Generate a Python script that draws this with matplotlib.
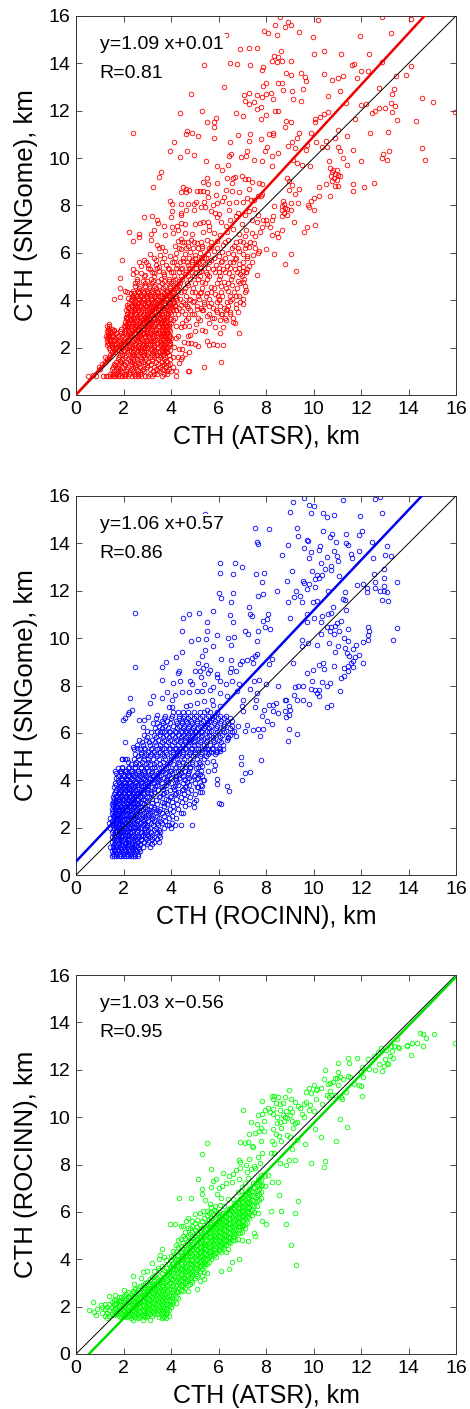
# Cloud top height comparison, three scatter panels
import matplotlib
matplotlib.use('Agg')
import matplotlib.pyplot as plt

plt.rcParams['font.family'] = ['Liberation Sans', 'DejaVu Sans']

# Panel 1: sparse points (ATSR, SNGome)
red_points = [(2.41,11.05),(3.26,8.8),(4.86,12.7),(4.38,11.92),(5.32,12.0),(5.39,13.93),(6.22,13.0),(6.3,15.2),(6.47,14.03),(6.78,13.98),(6.89,14.6),(7.3,14.65),(7.6,14.65),(7.33,13.93),
(7.07,12.68),(7.28,12.74),(7.12,12.43),(7.3,12.3),(7.51,12.38),(7.62,12.68),(7.83,12.6),(7.99,12.7),(8.2,12.77),(7.62,12.09),(7.78,12.15),(8.28,12.49),(8.38,12.0),(8.5,12.0),(6.74,11.9),(7.02,11.78),(7.8,11.64),(7.99,11.83),
(7.93,15.37),(8.08,15.3),(8.46,15.2),(8.39,15.6),(8.59,15.94),(8.8,15.55),(8.93,15.73),(9.05,15.6),(9.39,15.32),(9.96,15.1),(10.2,15.83),(12.9,15.97),(14.09,15.86),(13.25,15.3),(11.97,15.15),
(7.89,13.86),(7.83,13.72),(8.34,14.33),(8.49,14.28),(8.25,14.08),(8.46,14.05),(8.67,14.12),(8.63,14.54),(9.07,14.09),(10.0,14.38),(10.44,14.52),(11.16,14.38),(12.32,14.38),
(8.83,13.61),(9.04,13.5),(8.52,13.19),(8.67,13.19),(7.99,13.19),(7.87,13.06),(8.73,12.88),(9.09,12.85),(9.56,12.9),(9.47,13.61),(9.64,13.41),(9.67,13.26),(10.46,13.57),(10.78,13.3),(11.02,13.38),(11.26,13.47),(11.85,13.38),(12.0,13.69),(11.61,13.93),(11.7,13.99),(12.31,13.68),(12.9,14.05),(13.46,13.47),(13.89,13.52),(14.1,13.89),
(9.12,12.49),(9.47,12.42),(10.61,12.63),(11.1,12.85),(11.38,12.32),(12.01,12.25),(12.21,12.29),(12.76,12.96),(13.4,12.92),(13.29,12.72),(13.26,12.32),(13.42,12.21),(13.31,11.95),(13.52,11.63),(14.55,12.53),(15.05,12.36),(15.96,11.95),(14.32,11.56),
(13.01,12.1),(12.74,12.1),(12.58,12.0),(12.45,11.92),(10.62,11.95),(10.44,11.85),(10.29,11.73),(10.06,11.64),(10.08,11.53),(11.75,11.64),(9.04,11.54),(8.83,11.56),(8.81,11.33),(5.81,11.52),(5.5,11.53),(5.88,11.7),(5.81,11.32),(5.82,10.83),(4.67,11.15),(4.62,11.03),(4.9,11.08),(5.12,10.93),(4.14,10.7),(3.96,10.31),(4.36,10.03),(4.66,10.31),(4.97,10.14),(5.49,9.86),(5.94,9.65),(6.13,9.5),(6.39,9.72),(6.43,10.1),(6.51,10.18),(6.48,10.7),(6.82,10.98),(7.33,11.01),(7.28,10.72),(7.8,10.81),(8.11,11.01),(8.29,11.08),(8.31,10.97),(8.04,10.49),(7.96,10.32),(7.2,10.32),(7.14,10.07),(6.95,10.03),(7.51,9.92),(7.82,9.89),(8.24,10.1),(8.52,10.2),(8.25,9.65),
(8.94,10.52),(9.09,10.66),(9.21,10.44),(9.32,10.84),(9.39,11.04),(9.89,11.04),(10.12,10.66),(10.36,10.48),(9.73,10.56),(9.67,10.35),(10.55,10.49),(10.53,10.73),(10.9,10.87),(11.02,11.19),(11.42,10.94),(12.38,11.08),(13.14,11.11),(11.03,10.49),(11.12,10.31),(11.26,10.0),(11.4,9.7),(11.68,10.36),(12.0,9.86),(12.88,9.99),(12.94,10.17),(13.08,9.93),(13.18,10.32),(14.55,10.44),(14.71,9.93),(10.67,9.86),
(9.15,9.93),(9.32,9.79),(9.53,9.69),(9.87,9.65),(8.87,9.17),(8.97,9.02),(9.11,8.88),(8.98,8.67),(9.38,8.71),(9.22,8.5),(10.25,8.78),(10.53,8.92),(10.92,8.83),(10.69,8.38),(11.05,8.83),(10.69,9.58),(10.83,9.51),(10.98,9.48),(10.76,9.4),(10.9,9.34),(11.05,9.3),(11.12,9.23),(10.72,9.23),(10.87,9.16),(11.0,9.09),(10.76,9.02),(11.65,8.92),(11.65,8.6),(12.11,8.79),(12.53,8.96),
(10.25,8.38),(10.04,8.3),(9.88,8.17),(9.75,8.03),(9.81,7.94),(10.02,7.8),(10.08,7.19),(9.73,7.08),(9.62,6.9),(9.36,8.09),(9.17,7.32),(9.04,7.82),(9.05,8.1),(8.73,8.17),(8.77,8.08),(8.66,7.96),(8.8,7.89),(8.69,7.8),(8.87,7.85),(8.76,7.68),(8.9,7.61),(8.66,7.57),(8.34,7.96),(8.31,7.57),(8.24,7.37),(7.89,7.4),(8.03,7.23),(8.17,7.09),(8.67,6.95),(8.27,6.77),(8.49,6.67),(8.45,6.84),(8.32,5.97),(9.05,5.96),(8.81,5.55),(9.28,5.22),
(5.5,9.15),(5.35,9.0),(5.55,8.9),(5.95,8.95),(6.35,9.15),(6.6,9.15),(6.7,9.2),(7.0,9.25),(7.1,9.1),(7.25,9.1),(7.4,9.0),(7.7,8.95),(7.85,8.9),(6.55,8.95),(5.1,8.6),(5.2,8.6),(5.35,8.6),(5.5,8.55),(5.9,8.45),(6.3,8.65),(6.55,8.6),(6.85,8.55),(7.3,8.7),(7.85,8.5),(4.5,8.8),(4.65,8.7),(4.75,8.65),(4.4,8.55),(4.65,8.55),(3.5,9.2),(3.58,9.42),
(3.95,8.2),(4.05,8.05),(4.4,8.05),(4.7,8.05),(4.95,8.05),(5.05,8.15),(5.4,8.15),(5.55,8.35),(5.25,7.95),(5.45,7.95),(5.75,8.0),(5.95,8.1),(6.15,8.2),(6.25,8.35),(6.45,8.1),(6.75,8.15),(7.05,8.15),(7.2,8.3),(7.35,8.25),(7.5,8.25),(7.65,8.4),(7.8,8.4),(4.05,7.75),(4.4,7.7),(4.65,7.8),(4.95,7.8),(5.7,7.75),(5.85,7.7),(6.0,7.65),(6.45,7.8),(6.8,7.7),(7.1,7.6),(7.3,7.75),(7.5,7.85),(7.65,7.6),
(4.0,7.5),(4.4,7.6),(2.88,7.5),(3.2,7.55),(3.4,7.4),(3.45,7.25),(3.7,7.15),(4.05,7.1),(4.25,7.15),(4.4,7.25),(4.6,7.2),(5.0,7.2),(5.2,7.25),(5.35,7.3),(5.55,7.3),(5.6,7.15),(5.95,7.5),(6.1,7.3),(6.3,7.15),(6.5,7.4),(6.75,7.55),(7.0,7.2),(7.15,6.95),(7.4,7.4),(7.6,7.3),(7.85,7.1),(8.0,7.4),
(2.25,6.9),(2.65,6.8),(2.65,6.65),(2.4,6.5),(3.3,6.95),(3.15,6.8),(3.15,6.55),(3.75,6.75),(4.1,6.85),(4.3,6.95),(4.6,6.85),(4.9,6.8),(5.35,6.9),(5.6,6.95),(5.8,6.85),(6.05,6.75),(6.35,6.9),(6.6,7.0),(6.85,6.8),(7.1,6.7),(7.4,6.85),(7.55,6.7),(7.75,6.9),
(3.4,6.35),(3.5,6.2),(3.6,6.25),(3.75,6.1),(4.15,6.3),(4.3,6.5),(4.4,6.6),(4.55,6.45),(4.7,6.3),(4.85,6.55),(5.1,6.4),(5.3,6.3),(5.5,6.55),(5.7,6.3),(5.95,6.5),(6.2,6.35),(6.4,6.55),(6.65,6.3),(6.9,6.5),(7.15,6.35),(7.3,6.25),(7.5,6.4),(7.7,6.1),(8.0,6.15),
(3.1,5.95),(3.35,5.7),(3.55,5.9),(3.95,5.85),(4.2,6.0),(4.4,6.15),(4.6,5.95),(4.8,6.05),(5.0,5.9),(5.2,6.0),(5.4,5.8),(5.55,5.95),(5.8,6.1),(6.0,5.85),(6.15,6.05),(6.4,6.0),(6.6,5.95),(6.85,6.1),(7.05,5.95),(7.2,5.85),(7.45,5.9),(7.65,6.0),
(2.85,5.7),(2.65,5.6),(2.75,5.45),(2.95,5.6),(3.05,5.5),(3.35,5.5),(3.5,5.4),(3.8,5.5),(4.05,5.6),(4.25,5.5),(4.5,5.65),(4.7,5.5),(4.9,5.7),(5.05,5.55),(5.2,5.4),(5.45,5.55),(5.7,5.7),(5.9,5.5),(6.15,5.65),(6.35,5.45),(6.5,5.6),(6.7,5.75),(6.85,5.55),(7.05,5.4),(7.3,5.45),
(1.95,5.7),(1.85,4.95),(2.4,5.3),(2.4,5.1),(2.75,5.15),(2.9,5.05),(3.1,5.3),(3.3,5.15),(3.5,5.25),(3.7,5.1),(3.9,5.3),(4.1,5.2),(4.4,5.3),(4.6,5.1),(4.8,5.3),(5.0,5.15),(5.25,5.25),(5.5,5.1),(5.75,5.3),(6.0,5.2),(6.2,5.3),(6.45,5.15),(6.7,5.3),(6.9,5.1),(7.05,5.25),(7.15,5.2),(7.2,5.3),(7.6,5.05),
(1.6,4.05),(1.85,4.5),(1.85,4.15),(2.05,4.4),(2.15,4.35),(4.35,4.6),(4.55,4.4),(4.7,4.65),(5.0,4.35),(5.2,4.3),(5.3,4.75),(5.5,4.3),(5.7,4.55),(5.85,4.25),(6.1,4.6),(6.25,4.75),(6.4,4.4),(6.55,4.65),(6.8,4.8),(7.05,4.75),(7.1,4.6),(7.15,4.45),(6.75,4.2),(6.15,4.2),(6.0,4.0),(5.7,3.9),(5.4,3.85),(4.95,3.95),(4.75,4.0),(4.4,3.8),(4.6,3.85),(6.5,3.95),(7.05,3.85),(6.75,3.85),
(4.2,3.6),(4.45,3.55),(4.9,3.4),(5.1,3.65),(5.3,3.6),(5.5,3.35),(5.6,3.05),(5.8,3.25),(5.95,3.5),(6.15,3.4),(6.35,3.65),(6.5,3.5),(6.6,3.1),(6.8,3.5),(6.7,3.05),(6.3,3.15),(6.2,2.85),(6.05,2.6),(6.85,2.6),(5.85,2.85),(5.3,2.75),(5.45,2.7),(5.5,2.3),(5.6,2.1),(5.75,2.15),(5.95,2.1),(6.2,2.1),(5.05,3.0),(5.0,2.7),(4.8,2.55),(4.7,2.5),(4.55,2.9),(4.75,2.9),(4.3,2.5),(4.4,2.85),(4.2,2.4),(4.55,2.25),(4.7,2.2),(4.85,2.2),(5.15,2.05),(5.0,2.15),(4.35,1.95),(4.45,1.95),(4.3,1.6),(4.4,1.5),(4.35,1.35),(4.45,1.6),(4.75,1.8),(4.6,1.75),(5.4,1.2),(6.1,1.38),(4.7,1.0),(4.75,1.0),(4.0,1.0),(4.2,1.0),(0.5,0.8),(0.7,0.85),(0.85,0.82),(4.2,0.8)]

# Panel 1 dense core, one row of x values per SNGome level
red_core_y = [0.8,0.9,1.0,1.1,1.2,1.3,1.4,1.5,1.6,1.7,1.8,1.9,2.0,2.1,2.2,2.3,2.4,2.5,2.6,2.7,2.8,2.9,3.0,3.1,3.2,3.3,3.4,3.5,3.6,3.7,3.8,3.9,4.0,4.1,4.2,4.3,4.4,4.6,4.8]
red_core_x = [
[1.15,1.25,1.35,1.45,1.55,1.65,1.75,1.85,1.95,2.05,2.2,2.35,2.5,2.6,2.75,2.9,3.05,3.2,3.6],
[1.55,1.8,2.0,2.25,2.45,2.7,3.3,3.4,3.7],
[1.6,1.75,1.9,2.1,2.4,2.6,2.85,3.25,3.5,3.85],
[1.0,1.5,1.7,1.85,2.15,2.35,2.55,2.8,3.1,3.35,3.6,3.9],
[0.95,1.55,1.75,1.95,2.2,2.5,2.7,3.0,3.3,3.55,3.8,4.1],
[1.1,1.6,1.8,2.0,2.3,2.45,2.65,2.9,3.15,3.45,3.7,3.95],
[1.2,1.7,1.9,2.1,2.35,2.6,2.8,3.05,3.35,3.6,3.85],
[1.3,1.75,1.95,2.2,2.4,2.55,2.75,2.95,3.2,3.45,3.7,3.95],
[1.2,1.4,1.8,2.05,2.3,2.5,2.7,2.9,3.1,3.3,3.55,3.75,4.1],
[1.45,1.85,2.1,2.35,2.45,2.6,2.8,3.0,3.2,3.4,3.65,3.9],
[1.5,1.65,1.9,2.15,2.4,2.55,2.7,2.85,3.05,3.25,3.5,3.7,3.85],
[1.45,1.6,1.8,2.0,2.25,2.45,2.6,2.75,2.95,3.15,3.3,3.6,3.75,3.95],
[1.4,1.55,1.7,1.95,2.15,2.35,2.5,2.7,2.85,3.0,3.2,3.4,3.65,3.8],
[1.3,1.5,1.65,1.85,2.05,2.25,2.45,2.65,2.8,2.95,3.1,3.3,3.55,3.7,3.9],
[1.35,1.5,1.7,1.9,2.1,2.3,2.5,2.7,2.85,3.05,3.2,3.4,3.6,3.8,3.95],
[1.3,1.45,1.6,1.8,2.0,2.2,2.4,2.6,2.8,2.95,3.15,3.3,3.55,3.75,3.9],
[1.3,1.45,1.65,1.85,2.05,2.25,2.45,2.6,2.75,2.9,3.1,3.25,3.5,3.65,3.85,4.0],
[1.25,1.4,1.55,1.75,1.95,2.15,2.35,2.55,2.7,2.9,3.05,3.2,3.4,3.6,3.75,3.9],
[1.35,1.5,1.7,1.9,2.1,2.3,2.5,2.65,2.85,3.0,3.15,3.35,3.55,3.7,3.85],
[1.3,1.45,1.6,1.85,2.05,2.2,2.4,2.6,2.75,2.95,3.1,3.3,3.5,3.65,3.8,3.95],
[1.35,1.5,1.9,2.1,2.3,2.5,2.65,2.85,3.0,3.2,3.35,3.6,3.75,3.9],
[1.3,1.4,2.0,2.15,2.35,2.55,2.75,2.9,3.05,3.25,3.5,3.65,3.85],
[1.4,2.1,2.25,2.4,2.6,2.8,3.0,3.15,3.3,3.55,3.7,3.9],
[2.05,2.2,2.35,2.5,2.7,2.85,3.05,3.2,3.45,3.6,3.8],
[2.15,2.3,2.45,2.6,2.8,2.95,3.1,3.3,3.5,3.75,3.95],
[2.1,2.2,2.4,2.55,2.7,2.9,3.05,3.25,3.45,3.65,3.85],
[2.15,2.3,2.5,2.65,2.85,3.0,3.2,3.4,3.6,3.8,4.0],
[2.2,2.35,2.55,2.75,2.9,3.1,3.3,3.55,3.75,3.95],
[2.1,2.3,2.45,2.65,2.8,3.0,3.2,3.45,3.7,3.9,4.1],
[2.2,2.4,2.55,2.7,2.95,3.15,3.35,3.6,3.8,4.05],
[2.15,2.35,2.5,2.75,2.9,3.1,3.3,3.5,3.75,3.95,4.15],
[2.25,2.45,2.6,2.8,3.05,3.25,3.45,3.7,3.9,4.1],
[2.3,2.5,2.65,2.85,3.0,3.2,3.4,3.65,3.85,4.05,4.25],
[2.2,2.4,2.6,2.8,3.0,3.15,3.35,3.6,3.8,4.0,4.2],
[2.35,2.55,2.7,2.95,3.1,3.3,3.55,3.75,3.95,4.15],
[2.3,2.45,2.65,2.85,3.05,3.25,3.45,3.7,3.9,4.1],
[2.4,2.6,2.8,3.0,3.2,3.4,3.6,3.85,4.05,4.3],
[2.5,2.7,2.9,3.1,3.3,3.5,3.75,3.95,4.2],
[2.55,2.8,3.0,3.25,3.45,3.7,3.9,4.1,4.35]]

# Panel 1 more rows between the levels above, core and main band
red_more_y = [0.87,1.04,1.26,1.43,1.67,1.84,2.04,2.16,2.34,2.47,2.63,2.76,2.93,3.04,3.17,3.26,3.43,3.57,3.66,3.77,3.94,4.06,4.17,4.36,4.53,4.71,4.88,5.02,5.18,5.36,5.62,5.77,6.22,6.44]
red_more_x = [
[1.42,1.68,2.12,2.62,3.12,3.82],
[1.82,2.27,2.77,3.42,3.71],
[1.66,2.08,2.52,2.97,3.62,3.88],
[1.86,2.28,2.72,3.22,3.78],
[1.92,2.42,2.88,3.28,3.52,3.67,3.93],
[2.02,2.33,2.77,3.36,3.63,3.82],
[1.52,1.82,2.22,2.62,2.92,3.27,3.47,3.72,3.87,4.12],
[1.38,1.62,1.97,2.37,2.77,3.12,3.57,3.68,3.97],
[1.42,1.58,1.87,2.17,2.52,2.97,3.42,3.66,3.83,3.93],
[1.36,1.52,1.78,2.27,2.67,2.92,3.27,3.58,3.72,3.97],
[1.44,1.68,2.02,2.47,2.82,3.12,3.47,3.62,3.78,3.89],
[1.4,1.58,2.17,2.57,2.88,3.18,3.38,3.68,3.84],
[2.07,2.31,2.66,2.97,3.23,3.47,3.67,3.79,3.92,4.22],
[2.18,2.42,2.78,3.07,3.37,3.58,3.72,4.02,4.48],
[2.27,2.52,2.83,3.12,3.42,3.66,3.83,4.08,4.62,5.22,6.08],
[2.12,2.41,2.72,2.98,3.27,3.52,3.78,4.18,4.72,5.12,5.72,6.27,6.62],
[2.26,2.53,2.87,3.17,3.48,3.62,3.87,4.28,4.57,4.98,5.62,6.12,6.47],
[2.33,2.62,2.92,3.22,3.53,3.82,4.22,4.82,5.33,5.88,6.32],
[2.18,2.48,2.83,3.08,3.37,3.67,3.97,4.32,4.72,5.27,5.78,6.22,6.72],
[2.37,2.58,2.97,3.26,3.52,3.88,4.18,4.68,5.08,5.62,6.08,6.42],
[2.47,2.73,3.03,3.32,3.57,3.93,4.12,4.52,4.92,5.38,5.93,6.37,6.92],
[2.36,2.67,2.88,3.17,3.47,3.78,4.02,4.37,4.82,5.18,5.58,6.02,6.58,7.02],
[2.42,2.58,2.97,3.37,3.62,3.92,4.23,4.62,5.12,5.47,5.97,6.47,6.88],
[2.62,2.87,3.14,3.42,3.82,4.12,4.42,4.87,5.27,5.67,6.12,6.67,7.12],
[2.67,3.07,3.37,3.67,3.97,4.27,4.57,4.92,5.32,5.82,6.32,6.78],
[2.47,2.92,3.22,3.62,4.02,4.37,4.68,5.03,5.42,5.92,6.42,6.92],
[2.58,3.17,3.58,3.92,4.17,4.47,4.78,5.13,5.53,6.02,6.52,7.08],
[2.87,3.27,3.72,4.12,4.42,4.72,4.97,5.23,5.62,6.07,6.57,6.97],
[2.53,3.22,3.67,3.98,4.32,4.62,4.88,5.17,5.48,5.87,6.27,6.77,7.17],
[3.02,3.42,3.87,4.22,4.47,4.77,5.07,5.28,5.57,6.03,6.47,6.87],
[3.62,4.12,4.37,4.67,4.88,5.12,5.33,5.62,6.12,6.62,7.02,7.42],
[3.28,3.72,4.18,4.52,4.77,5.02,5.27,5.47,5.82,6.28,6.72,7.22],
[4.32,4.62,4.92,5.12,5.32,5.62,5.92,6.57,6.82,7.12,7.52],
[4.48,4.72,4.97,5.27,5.67,6.27,6.72,7.02,7.32]]

# Panel 2: sparse points (ROCINN, SNGome)
blue_points = [(2.47,11.05),(2.47,8.8),(5.43,15.22),(9.6,15.9),(9.15,15.73),(9.01,15.32),(9.8,15.6),(10.0,15.56),(9.88,15.3),(10.41,15.3),(10.57,15.1),(10.86,15.2),(11.26,15.83),(12.6,15.86),(12.8,15.97),(12.9,15.3),(11.96,15.15),(7.54,14.63),(8.11,14.6),(9.29,14.63),(9.33,14.33),(10.41,14.54),(12.03,14.54),(11.9,14.37),(10.76,14.38),(10.69,14.28),(10.93,14.07),(11.37,14.38),(11.35,14.0),(11.45,13.92),(12.46,14.05),(13.08,13.89),(8.94,13.93),(7.6,14.05),(7.68,13.97),(9.71,14.13),(9.78,14.09),(9.6,13.79),(10.23,13.72),(10.27,13.89),(9.89,13.62),(9.8,13.4),(8.67,13.5),(10.88,13.69),(11.0,13.47),(11.05,13.26),(11.58,13.57),(11.61,13.4),(11.92,13.68),(12.52,13.38),(13.01,13.52),(13.28,13.47),
(6.06,13.16),(6.69,13.16),(6.99,12.99),(6.05,12.75),(6.61,12.7),(7.56,12.7),(7.9,12.74),(7.82,12.37),(9.09,12.85),(9.92,12.85),(10.33,13.19),(10.55,13.41),(10.47,12.9),(10.74,13.05),(10.74,12.88),(10.13,12.67),(10.34,12.67),(10.25,12.53),(10.06,12.49),(11.07,12.63),(8.88,12.43),(9.57,12.43),(9.6,12.32),(9.81,12.3),(9.71,12.09),(10.05,12.15),(9.25,12.0),(8.46,12.0),(6.02,11.9),(6.62,11.92),(7.89,11.87),(7.65,11.78),(6.12,11.69),(6.51,11.52),(8.91,11.54),(9.18,11.73),(9.43,11.76),(9.5,11.54),(9.99,11.54),(10.13,11.57),(10.62,12.0),(11.33,11.95),(11.23,11.67),(11.33,11.62),(11.83,12.25),(12.1,12.29),(12.24,12.1),(12.27,11.94),(12.55,12.72),(12.97,12.92),(12.97,12.53),(12.59,12.35),(12.97,12.2),(12.59,12.1),(12.81,11.97),(12.97,11.97),(13.08,11.95),(12.88,11.62),(13.12,11.56),(13.5,12.36),(13.52,10.42),(13.36,9.93),
(5.75,11.15),(5.18,11.08),(4.76,11.03),(4.52,10.83),(5.5,10.7),(6.48,10.98),(6.6,10.7),(7.27,11.32),(7.31,11.03),(7.4,10.93),(7.89,10.72),(8.07,11.01),(8.04,10.8),(7.97,10.49),(8.18,10.39),(9.01,10.86),(9.73,11.03),(9.73,10.66),(10.0,10.83),(10.36,10.94),(10.33,10.66),(10.6,11.01),(10.83,11.31),(10.74,11.05),(11.38,11.19),(11.16,10.73),(11.0,10.63),(10.89,10.53),(10.74,10.49),(10.55,10.49),(10.69,10.32),(11.06,10.31),(11.45,10.38),(10.33,10.18),(10.65,9.78),(9.77,9.79),(9.5,9.93),(9.5,9.65),(10.16,9.69),(10.88,10.17),(11.3,9.99),(11.44,9.86),(10.9,9.41),(11.05,9.65),(11.34,9.58),
(12.28,10.49),(12.32,10.32),(12.28,10.14),(12.1,9.85),(12.28,9.93),(11.78,9.72),(11.68,9.55),(11.4,9.37),(11.48,9.23),(11.92,9.3),(11.75,9.19),(11.68,9.02),(11.58,8.95),(11.47,8.81),(11.68,8.78),(12.1,8.96),(11.3,8.74),(11.47,8.6),(11.3,8.38),(11.14,8.3),(11.12,7.78),(10.88,8.83),(10.25,8.88),(10.41,8.97),(10.44,8.71),(9.99,8.64),(9.74,8.51),(9.92,8.17),(10.34,8.13),(10.69,8.1),(10.55,7.99),(9.57,8.0),(9.36,8.0),(9.22,7.92),(9.88,7.87),(10.06,7.82),(10.13,7.68),(10.23,7.57),(10.25,7.82),(9.18,7.58),(9.57,7.4),(9.29,7.37),(8.79,7.4),(8.86,7.4),(9.8,7.2),(10.58,7.08),(10.75,7.18),
(8.98,7.12),(8.8,6.91),(8.83,6.67),(8.98,6.77),(9.01,6.98),(8.31,7.19),(8.42,7.26),(8.11,7.19),(8.31,6.91),(8.52,6.84),(7.93,6.95),(7.82,6.73),(8.06,6.49),(8.24,6.39),(8.98,6.17),(9.29,5.96),(8.93,5.65),(7.79,4.87),(6.93,5.0),(6.93,4.7),(7.12,4.31),(7.33,4.35),(6.99,4.03),(7.86,6.17),(7.47,6.14),(7.68,6.17),(7.75,5.88),(7.12,6.07),(7.19,6.32),(6.74,5.88),(6.39,5.79),(9.12,8.96),(8.14,8.92),(8.24,9.12),(8.52,8.0),(8.0,8.08),(7.72,8.24),(7.49,8.17),(7.33,7.87),(7.61,7.68),(7.58,7.4),(7.54,7.09),
(7.61,9.33),(7.54,9.25),(7.4,9.16),(7.47,8.95),(7.19,9.09),(6.91,8.92),(6.97,9.02),(6.51,9.09),(6.09,9.13),(5.78,9.65),(5.94,10.14),(6.41,10.01),(6.67,10.04),(6.53,9.72),(7.12,10.31),(7.23,10.18),(7.68,10.31),(7.61,9.87),(5.5,10.28),(5.47,9.96),(5.15,9.96),(4.83,9.86),(4.45,10.3),(4.48,9.42),(4.2,9.2),(3.78,9.0),(3.62,8.8),(5.43,9.51),(5.29,9.23),(5.12,8.97),(4.32,8.62),(4.28,8.53),(3.64,8.22),(4.08,8.1),(4.38,8.2),(4.8,8.17),(4.9,8.05),(5.01,8.6),(5.22,8.62),(5.36,8.74),(5.47,8.88),(5.64,8.67),(5.57,8.53),(5.25,8.36),(5.95,8.5),(5.95,8.36),(6.53,8.74),(6.48,8.55),(6.75,8.61),(6.88,8.08),(6.58,8.17),(6.32,8.08),(6.06,8.17),(5.78,7.94),(5.64,7.82),(5.39,8.08),
(2.27,7.47),(3.26,7.54),(3.62,7.47),(3.82,7.74),(4.18,7.61),(4.45,7.71),(4.77,7.72),(5.08,7.78),(5.29,7.75),(4.03,7.4),(3.12,7.26),(3.93,7.11),(4.06,7.09),(4.63,7.12),(4.8,7.19),(5.08,7.26),(5.39,7.33),(5.71,7.4),(6.06,7.68),(6.34,7.54),(6.76,7.75),(7.05,7.4),(6.98,7.12),(7.05,6.91),(6.06,7.12),(5.78,7.19),(5.5,6.98),(1.96,6.56),(2.08,6.62),(2.18,6.81),(2.25,6.88),(2.34,6.95),(2.67,6.56),(2.86,6.53),(3.05,6.66),(2.81,6.25),(3.26,6.42),(3.37,6.63),(3.42,6.77),
(6.1,3.0),(6.0,3.05),(4.9,2.1),(4.4,2.1),(4.15,2.1),(3.9,2.1),(4.95,2.85),(4.5,2.6),(4.4,2.6),(5.05,3.15),(5.3,3.5),(5.15,3.7),(5.3,3.75),(5.95,3.85),(5.95,4.05),(6.35,3.75),(6.45,3.55),(5.35,4.0),(5.55,4.4),(5.8,4.45),(5.85,4.65),(5.75,4.8),(5.1,4.05),(5.2,4.25),(5.3,4.6),(2.05,5.6),(2.4,5.4),(1.95,4.9),(2.05,4.9),(6.2,5.3),(6.05,5.25),(5.9,5.2),(5.7,5.2),(5.5,5.3)]

# Panel 2 dense band, one row of x values per SNGome level
blue_core_y = [0.8,0.9,1.0,1.1,1.2,1.3,1.4,1.5,1.6,1.7,1.8,1.9,2.0,2.1,2.2,2.3,2.4,2.5,2.6,2.7,2.8,2.9,3.0,3.1,3.2,3.3,3.4,3.5,3.6,3.7,3.8,3.9,4.0,4.1,4.2,4.3,4.4,4.5,4.7,4.9,5.1,5.3,5.5,5.7,5.9,6.1,6.3,6.5,6.7,6.9]
blue_core_x = [
[1.5,1.6,1.7,1.8,1.9,2.0,2.1,2.2,2.3,2.4,2.5,2.6],
[1.55,1.7,1.85,2.0,2.15,2.3,2.45,2.6],
[1.5,1.65,1.8,1.95,2.1,2.25,2.4,2.55,2.7],
[1.6,1.75,1.9,2.05,2.2,2.35,2.5,2.65],
[1.45,1.55,1.7,1.85,2.0,2.15,2.3,2.45,2.6,2.8,3.1],
[1.6,1.75,1.9,2.05,2.2,2.35,2.5,2.7,3.0,3.2],
[1.5,1.65,1.8,1.95,2.1,2.25,2.4,2.6,2.85,3.05,3.3,3.5],
[1.6,1.75,1.9,2.05,2.2,2.35,2.55,2.75,2.95,3.2,3.4],
[1.5,1.65,1.8,1.95,2.1,2.3,2.5,2.65,2.9,3.1,3.3,3.55],
[1.6,1.75,1.9,2.05,2.2,2.4,2.6,2.8,3.0,3.2,3.5],
[1.5,1.65,1.8,1.95,2.15,2.35,2.55,2.75,2.95,3.15,3.4,3.55],
[1.55,1.7,1.85,2.0,2.2,2.4,2.6,2.85,3.05,3.3,3.5],
[1.45,1.6,1.75,1.9,2.1,2.3,2.5,2.7,2.9,3.1,3.35,3.7,4.0],
[1.5,1.65,1.8,1.95,2.15,2.35,2.6,2.8,3.0,3.25,3.45,3.85],
[1.4,1.55,1.7,1.85,2.05,2.25,2.45,2.7,2.9,3.15,3.4,3.6,4.05],
[1.5,1.65,1.8,1.95,2.15,2.35,2.55,2.8,3.05,3.3,3.55,3.75],
[1.45,1.6,1.75,1.9,2.1,2.3,2.5,2.75,2.95,3.2,3.5,3.9,4.2],
[1.55,1.7,1.85,2.0,2.2,2.4,2.65,2.9,3.15,3.4,3.7,4.05],
[1.5,1.65,1.8,1.95,2.15,2.35,2.55,2.85,3.1,3.35,3.6,3.85],
[1.55,1.7,1.85,2.05,2.25,2.45,2.65,2.95,3.2,3.5,3.8,4.1],
[1.5,1.65,1.8,1.95,2.15,2.35,2.55,2.8,3.0,3.3,3.55,3.95,4.3],
[1.55,1.7,1.9,2.1,2.3,2.5,2.7,3.15,3.7,4.1,4.6],
[1.5,1.65,1.8,2.0,2.2,2.4,2.6,2.85,3.4,3.85,4.25,4.75],
[1.55,1.7,1.9,2.1,2.3,2.5,2.7,3.0,3.6,4.05,4.45,4.95],
[1.6,1.75,1.95,2.15,2.35,2.55,2.8,3.2,3.8,4.2,4.6],
[1.55,1.7,1.85,2.05,2.25,2.45,2.7,3.0,3.5,3.95,4.4,4.8],
[1.6,1.8,2.0,2.2,2.4,2.6,2.85,3.15,3.65,4.15,4.55,5.0],
[1.65,1.85,2.05,2.25,2.45,2.7,3.0,3.3,3.8,4.3,4.7,5.2],
[1.7,1.9,2.1,2.3,2.5,2.75,3.05,3.45,3.95,4.45,4.85],
[1.6,1.8,2.0,2.2,2.4,2.6,2.9,3.2,3.6,4.1,4.6,5.1],
[1.7,1.9,2.1,2.3,2.55,2.8,3.05,3.4,3.8,4.3,4.75,5.25],
[1.65,1.85,2.05,2.25,2.5,2.75,3.0,3.3,3.6,4.0,4.5,5.0],
[1.75,1.95,2.15,2.4,2.65,2.9,3.2,3.5,3.8,4.2,4.6,4.85,5.4],
[1.7,1.9,2.1,2.35,2.6,2.85,3.1,3.4,3.7,4.0,4.35,4.75,5.15],
[1.75,2.0,2.2,2.45,2.7,2.95,3.25,3.5,3.85,4.2,4.5,4.95,5.3],
[1.7,1.9,2.15,2.4,2.65,2.9,3.15,3.45,3.75,4.05,4.4,4.7,5.1],
[1.65,1.85,2.05,2.3,2.6,2.85,3.05,3.35,3.65,3.95,4.3,4.6,5.25],
[1.75,1.95,2.2,2.5,2.75,2.95,3.2,3.5,3.8,4.15,4.45,4.8,5.05],
[2.3,2.5,2.7,2.95,3.1,3.3,3.55,3.85,4.1,4.35,4.65,4.9,5.2],
[1.95,2.15,2.45,2.65,2.85,3.05,3.25,3.5,3.75,4.0,4.25,4.55,4.8,5.1,5.4],
[2.5,2.75,2.95,3.15,3.35,3.6,3.85,4.1,4.3,4.5,4.75,5.0,5.25,5.55,5.85],
[2.45,2.7,2.9,3.15,3.4,3.6,3.9,4.15,4.35,4.6,4.85,5.05,5.3,5.55,5.75,6.05],
[2.55,2.8,3.1,3.35,3.55,3.8,4.05,4.3,4.5,4.7,4.95,5.15,5.4,5.65,5.9,6.2],
[2.65,2.95,3.2,3.45,3.7,3.95,4.2,4.4,4.6,4.8,5.0,5.25,5.5,5.75,6.0,6.35],
[2.85,3.3,3.55,3.8,4.05,4.3,4.5,4.7,4.9,5.1,5.3,5.6,5.85,6.15,6.5],
[3.0,3.4,3.6,3.9,4.15,4.4,4.6,4.8,5.0,5.25,5.5,5.7,6.0,6.3,6.65],
[3.5,3.75,4.1,4.35,4.55,4.75,4.95,5.2,5.45,5.7,5.95,6.25,6.55,6.8],
[3.6,3.85,4.2,4.45,4.65,4.85,5.1,5.35,5.6,5.85,6.1,6.35,6.55],
[3.75,4.05,4.35,4.55,4.8,5.05,5.3,5.55,5.8,6.05,6.3],
[4.1,4.3,4.5,4.7,4.95,5.2,5.4,5.65,5.95]]

# Panel 2 more rows between the levels above
blue_more_y = [1.04,1.27,1.46,1.64,1.83,2.04,2.17,2.36,2.54,2.73,2.86,3.04,3.17,3.33,3.46,3.63,3.77,3.94,4.06,4.23,4.37,4.58,4.78,5.02,5.18,5.38,5.62,5.83,6.02,6.22,6.43,6.62]
blue_more_x = [
[1.58,1.78,2.03,2.28,2.53],
[1.68,1.92,2.17,2.43,2.68],
[1.72,1.97,2.18,2.47,2.73],
[1.68,1.88,2.13,2.37,2.72,3.02],
[1.72,1.87,2.08,2.27,2.58,2.87],
[1.68,1.83,2.03,2.22,2.42,2.62,2.98],
[1.58,1.77,1.92,2.12,2.33,2.58,2.88],
[1.68,1.82,2.02,2.18,2.38,2.63,2.87,3.18],
[1.62,1.78,1.93,2.12,2.32,2.52,2.78,3.02],
[1.63,1.78,1.92,2.13,2.33,2.52,2.72,3.08,3.42],
[1.72,1.87,2.03,2.22,2.42,2.62,2.92,3.28],
[1.62,1.78,1.97,2.18,2.38,2.58,2.78,3.22,3.72],
[1.68,1.82,2.02,2.22,2.42,2.62,2.92,3.38,3.88],
[1.72,1.92,2.12,2.32,2.52,2.77,3.08,3.52,4.02],
[1.78,1.97,2.17,2.37,2.57,2.82,3.17,3.72,4.22],
[1.82,2.02,2.22,2.42,2.67,2.98,3.28,3.68,4.12,4.52],
[1.87,2.07,2.27,2.47,2.72,2.97,3.32,3.72,4.18,4.62],
[1.82,2.07,2.28,2.52,2.78,3.08,3.42,3.88,4.27,4.68],
[1.92,2.13,2.33,2.58,2.82,3.12,3.47,3.82,4.22,4.55],
[1.97,2.17,2.42,2.67,2.92,3.18,3.57,3.92,4.32,4.72,5.02],
[1.88,2.12,2.37,2.62,2.88,3.22,3.62,3.98,4.38,4.77],
[1.92,2.22,2.47,2.72,2.97,3.27,3.57,3.87,4.22,4.57,4.82,5.12],
[2.17,2.52,2.77,3.02,3.37,3.67,3.97,4.28,4.52,4.88,5.17,5.52],
[2.62,2.87,3.12,3.42,3.72,4.02,4.22,4.47,4.67,4.92,5.22,5.47],
[2.72,3.02,3.27,3.52,3.77,4.07,4.27,4.52,4.78,5.03,5.32,5.62,5.92],
[2.58,2.88,3.18,3.48,3.72,3.97,4.22,4.42,4.62,4.87,5.12,5.42,5.72,6.02],
[2.77,3.07,3.32,3.62,3.87,4.12,4.37,4.57,4.77,4.97,5.22,5.47,5.82,6.12],
[2.98,3.37,3.67,3.92,4.17,4.42,4.62,4.82,5.03,5.28,5.52,5.78,6.08,6.42],
[3.17,3.52,3.72,3.97,4.22,4.47,4.67,4.87,5.07,5.32,5.62,5.92,6.22,6.58],
[3.32,3.62,3.87,4.27,4.52,4.72,4.92,5.12,5.38,5.62,5.88,6.18,6.47],
[3.42,3.67,3.97,4.27,4.48,4.68,4.88,5.08,5.27,5.52,5.82,6.08,6.42],
[3.72,3.98,4.32,4.52,4.72,4.97,5.22,5.47,5.72,5.97,6.22,6.48]]

# Panel 3: sparse points (ATSR, ROCINN)
green_points = [(0.53,1.87),(0.7,2.18),(0.75,1.78),(0.85,1.65),(0.9,1.9),(1.05,2.05),(1.4,2.45),(1.65,2.5),(2.0,2.7),(2.42,3.3),(2.45,2.95),(2.6,2.8),(2.75,3.2),(2.8,3.45),(3.0,3.5),(3.2,3.85),(3.3,3.5),(3.45,3.65),(3.5,4.0),(3.55,4.2),(3.6,4.45),(3.7,4.1),(3.8,3.95),(3.95,5.5),(4.15,5.5),(4.35,6.6),(4.85,6.6),(4.4,5.4),(4.5,5.4),(4.65,5.6),(4.7,5.75),(4.9,5.6),(5.0,5.9),(5.2,5.95),(5.35,6.05),(5.5,6.05),(5.13,7.4),(5.3,6.95),(5.3,6.75),(5.45,6.5),(5.3,8.45),(5.5,8.9),(5.7,7.8),(5.75,7.3),(5.7,7.05),(5.65,6.35),(5.9,7.4),(6.0,7.0),(5.95,6.75),(6.1,6.6),(6.2,7.65),(6.3,7.2),(6.15,7.1),(6.45,7.5),(6.55,7.25),(6.6,7.6),(6.75,7.75),(6.85,7.4),(6.9,7.85),(6.85,8.2),(6.9,8.1),(7.0,7.05),(7.05,10.3),(6.9,8.95),(7.1,8.9),(7.25,8.95),(7.35,9.8),(7.3,9.3),(7.45,8.75),(7.4,8.8),(7.55,9.35),(7.6,9.7),(7.65,10.1),(7.3,8.25),(7.2,7.7),(7.5,7.95),(7.65,8.3),(7.75,8.05),(7.85,8.5),(7.8,9.0),(7.7,9.4),(7.8,9.55),(7.9,9.4),(7.9,9.85),(7.85,10.15),(7.95,10.3),(8.1,10.4),(7.85,10.7),(8.25,10.9),(8.3,10.75),(8.35,10.9),(8.5,10.85),(8.3,10.35),(8.45,9.75),(8.6,9.8),(8.3,9.5),(8.4,9.3),(8.55,9.2),(8.25,9.0),(8.35,8.85),(8.65,9.0),(8.2,8.5),(8.35,8.5),(8.6,8.05),(8.85,8.0),(8.95,8.2),(9.2,8.2),(9.1,8.65),(9.3,9.05),(9.65,8.85),(9.9,8.05),(10.45,7.9),(10.5,8.15),(10.05,9.5),(10.3,9.15),(10.95,9.0),(11.1,9.9),(11.4,9.6),(8.25,7.25),(8.5,7.25),(8.55,6.7),(8.65,6.05),(8.2,6.05),(7.85,5.6),(8.0,5.5),(8.85,5.5),(9.35,6.45),(9.2,5.95),(9.05,4.6),(9.28,3.75),(7.5,5.1),(7.55,5.0),(7.25,4.75),(7.0,4.8),(6.85,4.0),(6.55,3.9),(6.45,3.6),(6.1,3.5),(7.65,5.95),(7.5,6.0),
(8.7,10.6),(8.8,10.85),(8.95,11.15),(9.05,10.75),(9.2,10.65),(9.35,10.45),(9.45,10.4),(9.6,10.55),(9.7,10.65),(9.8,11.25),(9.7,11.05),(9.9,11.0),(10.0,11.35),(10.1,11.15),(10.15,11.2),(10.3,11.25),(10.5,12.0),(10.45,11.6),(10.6,11.4),(10.7,11.1),(10.75,10.95),(10.9,11.65),(11.0,11.65),(11.05,12.3),(11.05,11.9),(11.1,11.7),(11.45,12.5),(11.5,12.3),(11.45,11.75),(11.55,11.7),(11.15,10.85),(11.2,10.75),(11.35,11.05),(11.7,11.4),(11.9,11.35),(12.0,11.9),(12.05,12.1),(12.1,11.7),(12.3,12.45),(12.35,12.05),(12.0,11.3),(12.05,10.9),(11.85,12.5),(12.55,12.6),(12.7,12.75),(12.85,12.9),(12.6,12.0),(12.75,12.25),(12.9,11.95),(13.0,12.45),(13.1,12.3),(13.2,12.6),(13.3,12.8),(13.4,13.0),(13.5,13.3),(13.55,12.95),(13.35,12.5),(13.15,12.25),(12.95,12.15),(13.05,12.85),(13.25,13.0),(13.6,12.9),(13.92,13.02),(13.95,13.05),(14.1,12.63),(14.15,13.11),(14.34,13.15),(14.5,13.56),(14.6,13.5),(14.6,13.0),(14.74,13.36),(15.07,13.53),(15.96,13.11),
(8.45,10.0),(8.6,10.3),(8.7,10.1),(8.8,10.0),(8.85,10.25),(8.9,9.95),(9.0,10.1),(9.1,9.85),(9.2,9.75),(9.0,10.4),(9.1,10.2),(8.75,9.85),(8.65,9.55),(8.9,9.25),(9.0,9.15),(9.15,9.55),(9.3,9.8),(9.5,10.15),(9.6,10.0),(9.8,10.3),(9.85,10.5),(10.0,10.25),(10.1,10.75),(10.35,10.55),(10.55,10.95),(10.65,10.85),(10.9,10.95),(11.05,11.35),(10.8,11.5),(10.7,11.45),(11.25,11.6),(8.6,10.55),(8.4,10.6),(8.15,10.2),(8.3,10.15),
(7.15,8.0),(7.35,7.8),(7.55,7.85),(7.95,7.5),(8.1,7.55),(7.85,7.15),(7.95,7.1),(7.65,7.4),(7.45,7.2),(7.25,7.45),(7.1,7.2),(6.95,6.9),(6.8,6.85),(6.6,6.55),(6.4,6.55),(6.25,6.25),(6.05,6.3),(5.85,6.25),(5.7,6.2)]

# Panel 3 dense band, one row of ROCINN values per ATSR column
green_core_x = [1.1,1.2,1.3,1.4,1.5,1.6,1.7,1.8,1.9,2.0,2.1,2.2,2.3,2.4,2.5,2.6,2.7,2.8,2.9,3.0,3.1,3.2,3.3,3.4,3.5,3.6,3.7,3.8,3.9,4.0,4.1,4.2,4.3,4.4,4.5,4.6,4.7,4.8,4.9,5.0,5.1,5.2,5.3,5.4,5.5,5.6,5.7,5.8,5.9,6.0,6.1,6.2,6.3,6.4,6.5,6.6,6.7,6.8,6.9,7.0,7.1,7.2,7.3,7.4,7.5,7.6,7.7,7.8]
green_core_y = [
[1.75,2.0],[1.6,1.9,2.1],[1.5,1.75,2.0],[1.6,1.85,2.1],[1.7,1.95,2.2],[1.65,1.85,2.1,2.3],[1.7,1.9,2.15,2.3],[1.6,1.8,2.0,2.25,2.4],[1.55,1.75,1.95,2.2,2.4],[1.6,1.8,2.0,2.2,2.45],
[1.55,1.75,1.95,2.15,2.35,2.55],[1.6,1.8,2.0,2.2,2.4,2.6],[1.5,1.7,1.9,2.1,2.3,2.5],[1.45,1.65,1.85,2.05,2.25,2.45,2.65],[1.55,1.75,1.95,2.15,2.35,2.55,2.75],[1.5,1.7,1.9,2.1,2.3,2.5,2.7],[1.6,1.8,2.0,2.2,2.4,2.6,2.85],[1.45,1.65,1.85,2.05,2.25,2.45,2.65,2.9],[1.55,1.75,1.95,2.15,2.35,2.55,2.75,3.0],[1.6,1.8,2.0,2.2,2.4,2.6,2.8,3.05],
[1.45,1.7,1.9,2.1,2.3,2.5,2.7,2.95,3.15],[1.6,1.8,2.0,2.2,2.4,2.6,2.8,3.0,3.25],[1.7,1.9,2.1,2.3,2.5,2.7,2.9,3.1,3.3],[1.75,1.95,2.15,2.35,2.55,2.75,2.95,3.2],[1.55,1.8,2.0,2.2,2.4,2.6,2.8,3.0,3.3,3.55],[1.5,1.7,1.9,2.1,2.3,2.5,2.7,2.9,3.15,3.4,3.7],[1.55,1.75,1.95,2.15,2.35,2.55,2.75,3.0,3.25,3.55],[1.5,1.7,1.9,2.1,2.3,2.55,2.8,3.05,3.3,3.65],[1.6,1.85,2.05,2.3,2.5,2.75,3.0,3.25,3.5,3.8],[2.0,2.25,2.5,2.75,3.0,3.2,3.45,3.7,3.95,4.15],
[2.2,2.45,2.7,2.9,3.15,3.4,3.6,3.85,4.1,4.35],[2.15,2.4,2.65,2.85,3.1,3.3,3.55,3.75,4.0,4.3,4.6],[2.35,2.6,2.8,3.05,3.25,3.5,3.7,3.95,4.2,4.5,4.8],[2.7,2.9,3.1,3.35,3.6,3.8,4.05,4.3,4.55,4.85],[2.65,2.85,3.05,3.25,3.5,3.7,3.95,4.2,4.45,4.7,5.0],[2.8,3.0,3.2,3.45,3.65,3.9,4.15,4.35,4.6,4.9,5.15],[2.65,2.9,3.15,3.35,3.55,3.8,4.0,4.25,4.5,4.75,5.0,5.3],[2.95,3.2,3.4,3.65,3.85,4.1,4.3,4.55,4.8,5.05,5.3],[3.05,3.3,3.5,3.75,3.95,4.2,4.4,4.65,4.9,5.15,5.4],[3.2,3.45,3.65,3.85,4.1,4.3,4.5,4.75,5.0,5.25,5.55],
[2.75,3.3,3.55,3.75,3.95,4.15,4.4,4.6,4.85,5.1,5.35,5.65],[3.1,3.5,3.7,3.9,4.1,4.3,4.5,4.7,4.95,5.2,5.45],[3.3,3.6,3.8,4.0,4.2,4.4,4.6,4.8,5.05,5.3,5.6],[3.15,3.45,3.7,3.9,4.1,4.3,4.5,4.7,4.95,5.2,5.45,5.75],[3.4,3.8,4.0,4.2,4.4,4.6,4.8,5.05,5.3,5.55,5.85],[3.9,4.1,4.3,4.5,4.7,4.95,5.15,5.4,5.65,5.95],[4.0,4.2,4.4,4.6,4.8,5.0,5.25,5.5,5.75,6.0],[4.2,4.4,4.6,4.8,5.0,5.2,5.4,5.6,5.85,6.1],[4.1,4.3,4.55,4.75,4.95,5.15,5.35,5.55,5.8,6.05],[4.4,4.6,4.8,5.0,5.2,5.4,5.6,5.8,6.0],
[4.3,4.5,4.7,4.9,5.1,5.3,5.5,5.7,5.9],[4.5,4.7,4.9,5.1,5.3,5.5,5.7,5.95],[4.3,4.6,4.8,5.0,5.2,5.4,5.6,5.8,6.0],[4.45,4.75,4.95,5.15,5.35,5.55,5.75,5.95],[4.7,4.9,5.1,5.3,5.5,5.7,5.9,6.15],[4.8,5.0,5.2,5.4,5.6,5.8,6.0,6.2],[4.8,5.05,5.25,5.45,5.65,5.85,6.05,6.3],[4.85,5.1,5.35,5.55,5.75,5.95,6.15,6.4],[5.1,5.35,5.55,5.75,5.95,6.15,6.35,6.55],[5.15,5.4,5.6,5.8,6.0,6.2,6.4,6.6],
[5.3,5.5,5.75,5.95,6.15,6.35,6.55,6.75],[5.55,5.8,6.0,6.2,6.4,6.6,6.85],[5.75,5.95,6.15,6.35,6.55,6.75,6.95],[5.85,6.1,6.3,6.5,6.7,6.9],[6.0,6.25,6.45,6.65,6.85,7.05],[6.25,6.45,6.7,6.9,7.1],[6.5,6.75,6.95,7.15,7.35],[6.6,6.85,7.1,7.35,7.55]]

# Panel 3 more columns between those above
green_more_x = [1.65,1.85,2.05,2.25,2.45,2.65,2.85,3.05,3.25,3.45,3.65,3.85,4.05,4.25,4.45,4.65,4.85,5.05,5.25,5.45,5.65,5.85,6.05,6.25,6.45,6.65,6.85,7.05,7.25]
green_more_y = [
[1.72,1.93,2.12],[1.68,1.88,2.08,2.28],[1.67,1.87,2.07,2.28],[1.62,1.82,2.02,2.22,2.42],[1.63,1.83,2.03,2.23,2.43,2.63],[1.58,1.78,1.98,2.18,2.38,2.58],[1.62,1.82,2.02,2.22,2.42,2.62,2.82],[1.72,1.92,2.12,2.32,2.52,2.72,2.92],[1.78,1.98,2.18,2.38,2.58,2.78,2.98],[1.67,1.87,2.07,2.27,2.47,2.67,2.87,3.07],[1.62,1.82,2.02,2.22,2.42,2.62,2.82,3.02],[1.72,1.92,2.12,2.42,2.68,2.92,3.12,3.38],[2.12,2.38,2.62,2.88,3.12,3.33,3.58,3.82],
[2.62,2.92,3.17,3.42,3.62,3.88,4.12],[2.92,3.12,3.37,3.58,3.82,4.07,4.32],[3.08,3.32,3.52,3.72,3.97,4.18,4.42],[3.12,3.37,3.62,3.82,4.02,4.27,4.52,4.77],[3.37,3.62,3.82,4.02,4.22,4.42,4.62,4.87],[3.72,3.92,4.12,4.32,4.52,4.72,4.92,5.17],[3.82,4.02,4.22,4.42,4.62,4.82,5.02,5.27],[4.12,4.32,4.52,4.72,4.92,5.12,5.32,5.52],[4.27,4.47,4.67,4.87,5.07,5.27,5.47,5.72],[4.37,4.57,4.77,4.97,5.17,5.37,5.57,5.82],[4.62,4.82,5.02,5.22,5.42,5.62,5.82],[4.72,4.92,5.12,5.32,5.52,5.72,5.92,6.12],[4.92,5.12,5.32,5.52,5.72,5.92,6.12,6.32],[5.22,5.42,5.62,5.82,6.02,6.22,6.42],[5.42,5.62,5.82,6.02,6.22,6.42,6.62],[5.82,6.02,6.22,6.42,6.62,6.82]]

# Fit lines printed on the chart
fit_slopes = [1.09, 1.06, 1.03]
fit_offsets = [0.01, 0.57, -0.56]
fit_texts = ['y=1.09 x+0.01', 'y=1.06 x+0.57', 'y=1.03 x\u22120.56']
r_texts = ['R=0.81', 'R=0.86', 'R=0.95']
x_labels = ['CTH (ATSR), km', 'CTH (ROCINN), km', 'CTH (ATSR), km']
y_labels = ['CTH (SNGome), km', 'CTH (SNGome), km', 'CTH (ROCINN), km']
colors = ['#ff0000', '#0000ff', '#00ff00']
line_colors = ['#ee0000', '#0000ee', '#00dd00']
ticks = [0, 2, 4, 6, 8, 10, 12, 14, 16]

# Put the core rows and the sparse points together
xs1 = [p[0] for p in red_points]
ys1 = [p[1] for p in red_points]
for y, row in zip(red_core_y + red_more_y, red_core_x + red_more_x):
    xs1 += row
    ys1 += [y] * len(row)

xs2 = [p[0] for p in blue_points]
ys2 = [p[1] for p in blue_points]
for y, row in zip(blue_core_y + blue_more_y, blue_core_x + blue_more_x):
    xs2 += row
    ys2 += [y] * len(row)

xs3 = [p[0] for p in green_points]
ys3 = [p[1] for p in green_points]
for x, col in zip(green_core_x + green_more_x, green_core_y + green_more_y):
    xs3 += [x] * len(col)
    ys3 += col

xs = [xs1, xs2, xs3]
ys = [ys1, ys2, ys3]

W, H = 470, 1409
fig = plt.figure(figsize=(W / 100, H / 100), dpi=100)
tops = [16, 496, 975]

for i in range(3):
    ax = fig.add_axes([76 / W, (H - tops[i] - 379) / H, 380 / W, 379 / H])
    ax.plot(xs[i], ys[i], 'o', mfc='none', mec=colors[i], ms=3.3, mew=0.6, zorder=2)
    ax.plot([0, 16], [0, 16], color='black', lw=0.7, zorder=3)
    ax.plot([0, 16], [fit_offsets[i], fit_slopes[i] * 16 + fit_offsets[i]], color=line_colors[i], lw=1.8, zorder=3)
    ax.set_xlim(0, 16)
    ax.set_ylim(0, 16)
    ax.set_xticks(ticks)
    ax.set_yticks(ticks)
    ax.tick_params(direction='in', top=True, right=True, length=4, width=0.6, labelsize=14, pad=4, color='#333333')
    for s in ax.spines.values():
        s.set_linewidth(0.7)
        s.set_color('#333333')
    ax.text(1.0, 14.78, fit_texts[i], fontsize=14, va='center', ha='left', zorder=5,
            bbox=dict(fc='white', ec='none', pad=2))
    ax.text(1.0, 13.58, r_texts[i], fontsize=14, va='center', ha='left', zorder=5)
    ax.set_xlabel(x_labels[i], fontsize=18, va='center')
    ax.set_ylabel(y_labels[i], fontsize=18.5, va='center')
    ax.xaxis.set_label_coords(0.5, -0.111)
    ax.yaxis.set_label_coords(-0.132, 0.5)

fig.savefig('out.png', dpi=100)
